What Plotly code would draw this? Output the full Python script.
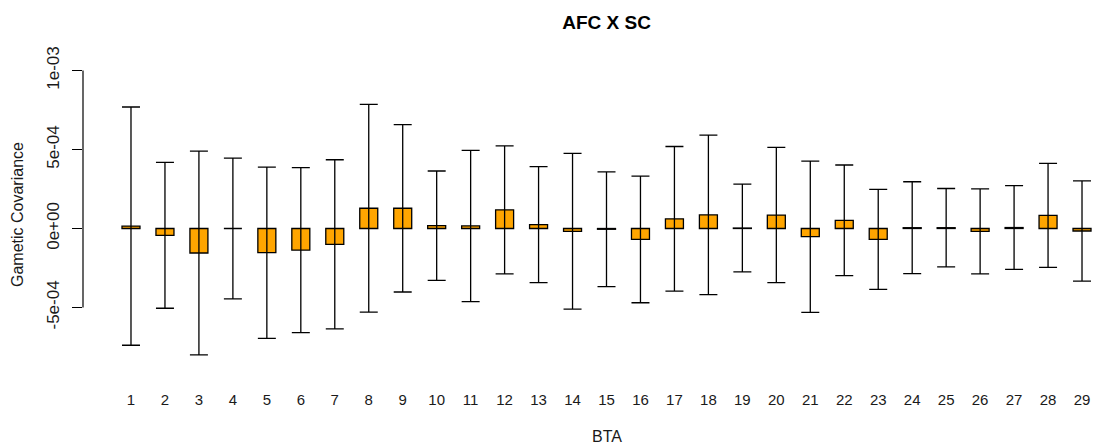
import plotly.graph_objects as go

# Chromosome (BTA) labels and gametic covariance estimates with error half-widths
bta = [str(i) for i in range(1, 30)]
covariance = [
    1.5e-5, -4.3e-5, -1.55e-4, 0.0, -1.53e-4, -1.37e-4, -1.0e-4, 1.28e-4,
    1.28e-4, 1.8e-5, 1.6e-5, 1.18e-4, 2.4e-5, -1.8e-5, -5e-6, -6.9e-5,
    6.1e-5, 8.6e-5, 3e-6, 8.5e-5, -5.2e-5, 5.2e-5, -6.9e-5, 5e-6,
    5e-6, -1.8e-5, 6e-6, 8.3e-5, -1.6e-5,
]
error = [
    7.54e-4, 4.62e-4, 6.45e-4, 4.45e-4, 5.42e-4, 5.22e-4, 5.35e-4, 6.57e-4,
    5.30e-4, 3.46e-4, 4.79e-4, 4.05e-4, 3.67e-4, 4.93e-4, 3.63e-4, 4.01e-4,
    4.58e-4, 5.05e-4, 2.78e-4, 4.28e-4, 4.79e-4, 3.50e-4, 3.17e-4, 2.91e-4,
    2.48e-4, 2.69e-4, 2.65e-4, 3.29e-4, 3.17e-4,
]
y_ticks = [-5e-4, 0.0, 5e-4, 1e-3]
y_tick_text = ["-5e-04", "0e+00", "5e-04", "1e-03"]

positions = list(range(1, len(bta) + 1))
font = "Liberation Sans, Arial, sans-serif"
text_color = "#1a1a1a"

fig = go.Figure(
    go.Bar(
        x=positions,
        y=covariance,
        width=0.53,
        marker=dict(color="#FFA500", line=dict(color="black", width=1.3)),
        error_y=dict(type="data", array=error, visible=True,
                     color="black", thickness=1.3, width=9),
    )
)

fig.update_layout(
    width=1097,
    height=448,
    margin=dict(l=83, r=5, t=60, b=68),
    paper_bgcolor="white",
    plot_bgcolor="white",
    showlegend=False,
    font=dict(family=font, size=14, color=text_color),
    title=dict(text="<b>AFC X SC</b>", x=0.553, xref="container", xanchor="center",
               y=0.95, yref="container", yanchor="middle",
               font=dict(family=font, size=19, color="black")),
    xaxis=dict(
        range=[-0.413, 29.294],
        tickmode="array",
        tickvals=positions,
        ticktext=bta,
        ticks="outside",
        ticklen=6,
        tickcolor="rgba(0,0,0,0)",
        showline=False,
        showgrid=False,
        zeroline=False,
        tickfont=dict(size=15, color=text_color),
    ),
    yaxis=dict(
        range=[-9.59e-4, 1.0665e-3],
        tickmode="array",
        tickvals=y_ticks,
        ticktext=y_tick_text,
        tickangle=-90,
        ticks="outside",
        ticklen=10,
        tickwidth=1.2,
        tickcolor="black",
        ticklabelstandoff=6,
        showline=False,
        showgrid=False,
        zeroline=False,
        tickfont=dict(size=17, color=text_color),
    ),
    shapes=[
        dict(type="line", xref="paper", x0=0, x1=0, yref="y",
             y0=min(y_ticks), y1=max(y_ticks),
             line=dict(color="black", width=1.2)),
    ],
    annotations=[
        dict(text="BTA", xref="paper", x=(606.5 - 83) / (1092 - 83), yref="paper",
             y=-(436 - 380) / 320, showarrow=False, xanchor="center", yanchor="middle",
             font=dict(family=font, size=16, color=text_color)),
        dict(text="Gametic Covariance", xref="paper", x=-(83 - 17) / 1009, yref="paper",
             y=(380 - 215) / 320, showarrow=False, textangle=-90,
             xanchor="center", yanchor="middle",
             font=dict(family=font, size=16, color=text_color)),
    ],
)

fig.write_html("out.html")
